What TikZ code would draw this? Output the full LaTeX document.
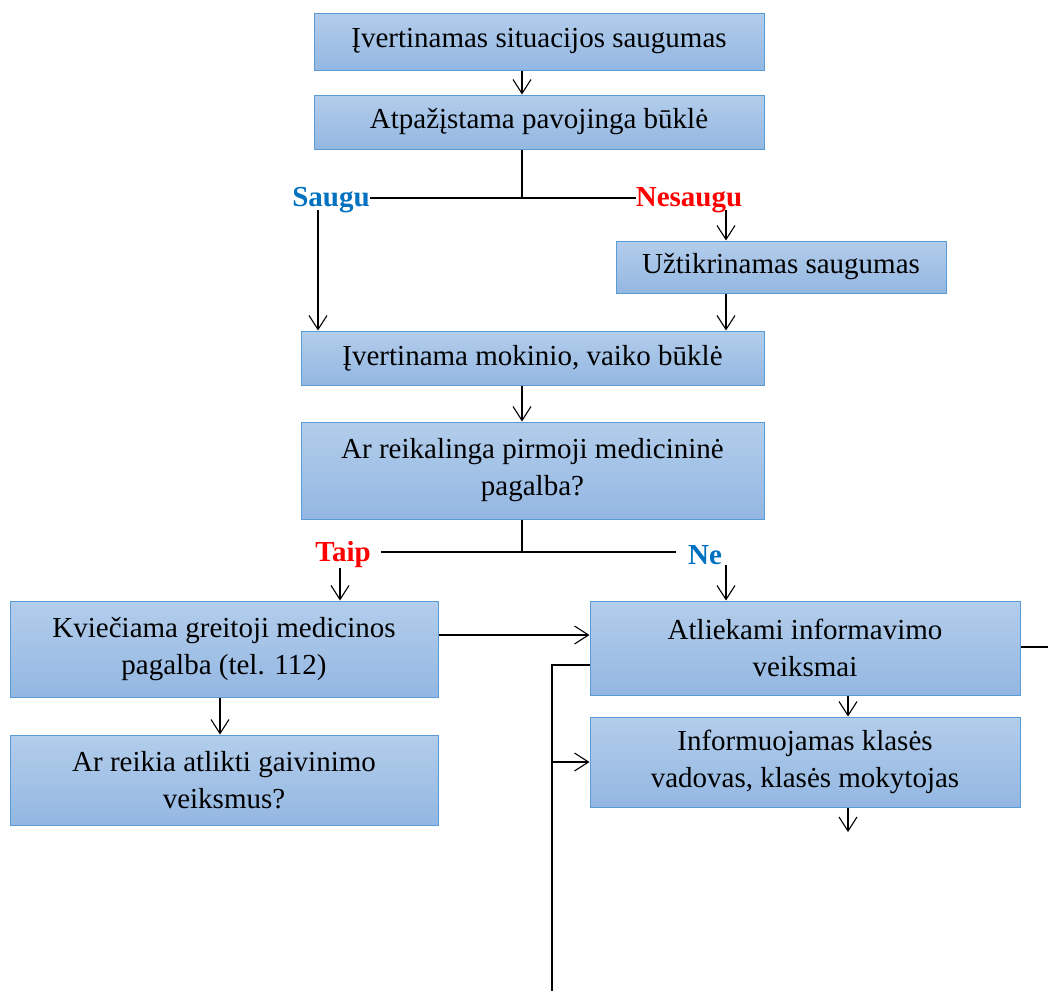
\documentclass[tikz,border=0pt]{standalone}
\usepackage{fontspec}
\setmainfont{Liberation Serif}
\usetikzlibrary{arrows.meta,calc}
\definecolor{boxtop}{HTML}{B3CDEB}
\definecolor{boxbot}{HTML}{93B7E2}
\definecolor{boxline}{HTML}{5B9BD5}
\definecolor{okblue}{HTML}{0070C0}
\definecolor{badred}{HTML}{FF0000}

\begin{document}
\begin{tikzpicture}[x=1pt,y=-1pt,
  box/.style 2 args={draw=boxline, line width=1pt, top color=boxtop, bottom color=boxbot,
    minimum width=#1, minimum height=#2, inner sep=0pt, align=center,
    font=\fontsize{29}{37}\selectfont},
  lab/.style={inner sep=0pt, font=\fontsize{29}{37}\selectfont\bfseries},
  ln/.style={line width=1.1pt},
  arr/.style={ln, -{Straight Barb[length=14pt,width=18pt]}}]
  \useasboundingbox (0,0) rectangle (1048,991);

  % --- Top chain ---
  \node[box={450}{57}] (sit) at (539,41.5) {Įvertinamas situacijos saugumas};
  \node[box={450}{54}] (pav) at (539,122) {Atpažįstama pavojinga būklė};
  \node[box={330}{52}] (uzt) at (781,267) {Užtikrinamas saugumas};
  \node[box={463}{54}] (bukle) at (532.5,358) {Įvertinama mokinio, vaiko būklė};
  \node[box={463}{97}] (pirm) at (532.5,470.5) {Ar reikalinga pirmoji medicininė\\pagalba?};

  % --- Lower part ---
  \node[box={428}{96}] (gmp) at (224,649) {Kviečiama greitoji medicinos\\pagalba (tel. 112)};
  \node[box={428}{90}] (gaiv) at (224,780) {Ar reikia atlikti gaivinimo\\veiksmus?};
  \node[box={430}{94}] (info) at (805,648) {Atliekami informavimo\\veiksmai};
  \node[box={430}{90}] (vad) at (805,762) {Informuojamas klasės\\vadovas, klasės mokytojas};

  % Branch labels
  \node[lab, text=okblue] (saugu) at (331,200) {Saugu};
  \node[lab, text=badred] (nesaugu) at (689,200) {Nesaugu};
  \node[lab, text=badred] (taip) at (343,555) {Taip};
  \node[lab, text=okblue] (ne) at (705,555) {Ne};

  % Helper points
  \coordinate (s1) at (522,198);
  \coordinate (s2) at (522,552);
  \coordinate (lx) at (318,0);
  \coordinate (rx) at (726,0);
  \coordinate (vend) at (848,832);
  \coordinate (rend) at (1048,647);
  \coordinate (lk) at (552,665);
  \coordinate (lend) at (552,991);

  % Connectors, upper
  \draw[arr] (sit.south -| s1) -- (pav.north -| s1);
  \draw[ln] (pav.south -| s1) -- (s1);
  \draw[ln] (saugu.east |- s1) -- (nesaugu.west |- s1);
  \draw[arr] ($(saugu.south -| lx)+(0,-3)$) -- (bukle.north -| lx);
  \draw[arr] ($(nesaugu.south -| rx)+(0,-3)$) -- (uzt.north -| rx);
  \draw[arr] (uzt.south -| rx) -- (bukle.north -| rx);
  \draw[arr] (bukle.south -| s1) -- (pirm.north -| s1);

  % Connectors, lower
  \draw[ln] (pirm.south -| s2) -- (s2);
  \draw[ln] ($(taip.east |- s2)+(10,0)$) -- ($(ne.west |- s2)+(-12,0)$);
  \draw[arr] ([xshift=-3pt]taip.south) -- ([xshift=-3pt]taip.south |- gmp.north);
  \draw[arr] (ne.south -| rx) -- (info.north -| rx);
  \draw[arr] ([yshift=14pt]gmp.east) -- ([yshift=14pt]gmp.east -| info.west);
  \draw[arr] ([xshift=-4pt]gmp.south) -- ([xshift=-4pt]gaiv.north);
  \draw[arr] ([xshift=43pt]info.south) -- ([xshift=43pt]vad.north);
  \draw[arr] (vad.south -| vend) -- (vend);
  \draw[ln] (info.east |- rend) -- (rend);
  \draw[ln] (info.west |- lk) -- (lk) -- (lend);
  \draw[arr] (lk |- vad.west) -- (vad.west);
\end{tikzpicture}
\end{document}
